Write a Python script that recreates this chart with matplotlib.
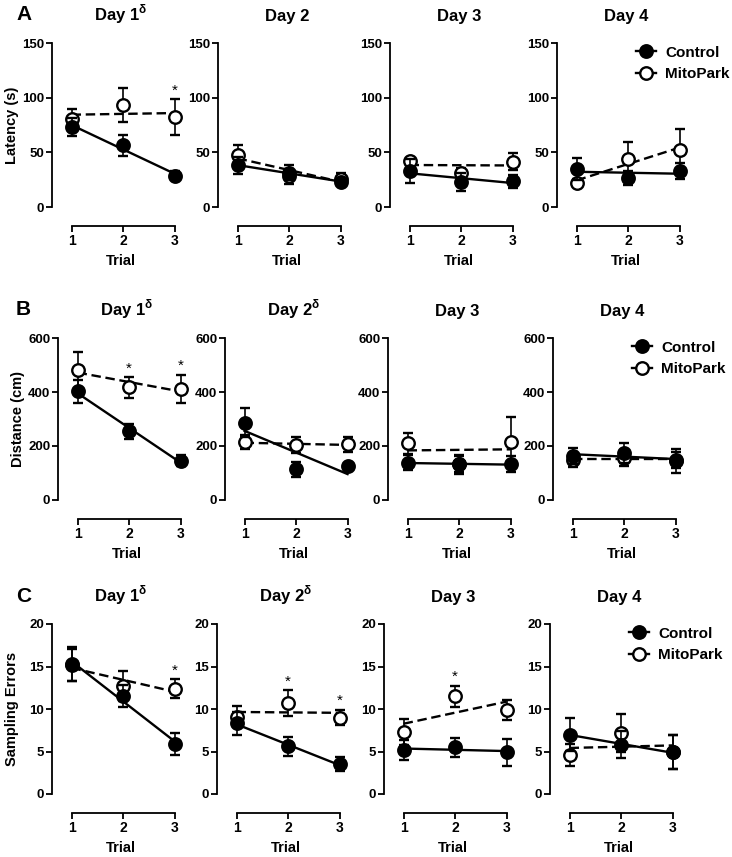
import matplotlib.pyplot as plt
import numpy as np
from matplotlib.lines import Line2D

# trial numbers
trials = [1, 2, 3]

# A: latency (s), mean and SEM per day (Day 1..4)
lat_ctrl = [[73, 56.6, 28.5], [38, 31.5, 23], [32.5, 23, 23.6], [34.6, 26.6, 32.8]]
lat_ctrl_sem = [[8.5, 9.5, 4], [8, 7, 3], [11, 8, 6], [10, 6.5, 7.5]]
lat_mito = [[80.5, 93, 82], [47.4, 28, 26], [42, 31, 41.6], [22, 44, 52]]
lat_mito_sem = [[9, 15.6, 16.5], [9.6, 7, 5], [3, 5, 8], [4, 15, 19]]
lat_stars = [[3], [], [], []]
lat_titles = ['Day 1$^{\\mathregular{δ}}$', 'Day 2', 'Day 3', 'Day 4']

# B: distance (cm)
dist_ctrl = [[402, 254, 145], [287, 114, 127], [138, 132, 132], [163, 174, 145]]
dist_ctrl_sem = [[41, 29, 20], [53, 28, 8], [28, 35, 30], [28, 37, 45]]
dist_mito = [[482, 417, 412], [214, 204, 206], [210, 133, 214], [148, 155, 148]]
dist_mito_sem = [[68, 38, 52], [25, 31, 29], [40, 30, 93], [25, 30, 30]]
dist_stars = [[2, 3], [], [], []]
dist_titles = ['Day 1$^{\\mathregular{δ}}$', 'Day 2$^{\\mathregular{δ}}$', 'Day 3', 'Day 4']

# C: sampling errors
err_ctrl = [[15.3, 11.5, 5.9], [8.3, 5.6, 3.5], [5.2, 5.5, 4.9], [7.0, 5.8, 4.9]]
err_ctrl_sem = [[2.0, 1.3, 1.3], [1.3, 1.1, 0.8], [1.2, 1.1, 1.6], [1.9, 1.6, 2.0]]
err_mito = [[15.2, 12.7, 12.4], [9.1, 10.7, 9.0], [7.3, 11.5, 9.9], [4.6, 7.2, 4.9]]
err_mito_sem = [[1.9, 1.8, 1.1], [1.2, 1.5, 0.9], [1.5, 1.25, 1.2], [1.3, 2.2, 2.0]]
err_stars = [[3], [2, 3], [2], []]
err_titles = ['Day 1$^{\\mathregular{δ}}$', 'Day 2$^{\\mathregular{δ}}$', 'Day 3', 'Day 4']

plt.rcParams['font.family'] = ['Liberation Sans', 'DejaVu Sans']
plt.rcParams['font.weight'] = 'bold'

W, H = 732, 857
fig = plt.figure(figsize=(W / 100, H / 100), dpi=100)

rows = [
    dict(ctrl=lat_ctrl, csem=lat_ctrl_sem, mito=lat_mito, msem=lat_mito_sem,
         stars=lat_stars, titles=lat_titles, ymax=150, yticks=[0, 50, 100, 150],
         spines=[52, 218, 390, 557], top=43, bottom=207, letter='A',
         ylabel='Latency (s)', ylab_x=12),
    dict(ctrl=dist_ctrl, csem=dist_ctrl_sem, mito=dist_mito, msem=dist_mito_sem,
         stars=dist_stars, titles=dist_titles, ymax=600, yticks=[0, 200, 400, 600],
         spines=[58, 225, 388, 553], top=338, bottom=500, letter='B',
         ylabel='Distance (cm)', ylab_x=18),
    dict(ctrl=err_ctrl, csem=err_ctrl_sem, mito=err_mito, msem=err_mito_sem,
         stars=err_stars, titles=err_titles, ymax=20, yticks=[0, 5, 10, 15, 20],
         spines=[52, 217, 384, 550], top=624, bottom=794, letter='C',
         ylabel='Sampling Errors', ylab_x=12),
]

x = np.array(trials)
width_px = 138
for r in rows:
    for d in range(4):
        left = r['spines'][d]
        ax = fig.add_axes([left / W, 1 - r['bottom'] / H, width_px / W, (r['bottom'] - r['top']) / H])
        ax.set_xlim(0.62, 3.3)
        ax.set_ylim(0, r['ymax'])
        ax.patch.set_alpha(0)

        # linear fits through the means
        for means, ls in [(r['mito'][d], (0, (4, 2))), (r['ctrl'][d], '-')]:
            k, b = np.polyfit(x, means, 1)
            ax.plot(x, k * x + b, color='black', lw=1.7, ls=ls, zorder=2)

        ax.errorbar(x, r['mito'][d], yerr=r['msem'][d], fmt='o', ms=9, mfc='white',
                    mec='black', mew=1.7, ecolor='black', elinewidth=1.2, capsize=3.5,
                    capthick=1.2, zorder=3)
        ax.errorbar(x, r['ctrl'][d], yerr=r['csem'][d], fmt='o', ms=9, mfc='black',
                    mec='black', mew=1.7, ecolor='black', elinewidth=1.2, capsize=3.5,
                    capthick=1.2, zorder=4)

        for t in r['stars'][d]:
            top = r['mito'][d][t - 1] + r['msem'][d][t - 1]
            ax.text(t, top + 0.01 * r['ymax'], '*', ha='center', va='bottom',
                    fontsize=11, fontweight='normal')

        ax.spines['top'].set_visible(False)
        ax.spines['right'].set_visible(False)
        ax.spines['left'].set_bounds(0, r['ymax'])
        ax.spines['bottom'].set_bounds(1, 3)
        ax.spines['bottom'].set_position(('outward', 13.5))
        for s in ['left', 'bottom']:
            ax.spines[s].set_linewidth(1.3)
        ax.set_xticks(trials)
        ax.set_yticks(r['yticks'])
        ax.tick_params(direction='out', length=4, width=1.3, labelsize=9.5, pad=1.5)
        ax.tick_params(axis='x', labelsize=10, pad=2)
        ax.set_xlabel('Trial', fontsize=10.5, fontweight='bold', labelpad=4)
        ax.set_title(r['titles'][d], fontsize=12, fontweight='bold', pad=16)

        if d == 3:
            handles = [
                Line2D([], [], color='black', lw=1.7, marker='o', ms=9, mfc='black', mew=1.7),
                Line2D([], [], color='black', lw=1.7, marker='o', ms=9, mfc='white', mew=1.7),
            ]
            ax.legend(handles, ['Control', 'MitoPark'], loc='upper left',
                      bbox_to_anchor=(0.52, 1.03), frameon=False,
                      handlelength=1.3, handletextpad=0.6, labelspacing=0.5,
                      borderpad=0, prop={'weight': 'bold', 'size': 11})

    fig.text(16 / W, 1 - (r['top'] - 28) / H, r['letter'], fontsize=15, fontweight='bold',
             va='center', ha='left')
    fig.text(r['ylab_x'] / W, 1 - (r['top'] + r['bottom']) / 2 / H, r['ylabel'], rotation=90,
             fontsize=10.5, fontweight='bold', va='center', ha='center')

fig.savefig('out.png', dpi=100)
